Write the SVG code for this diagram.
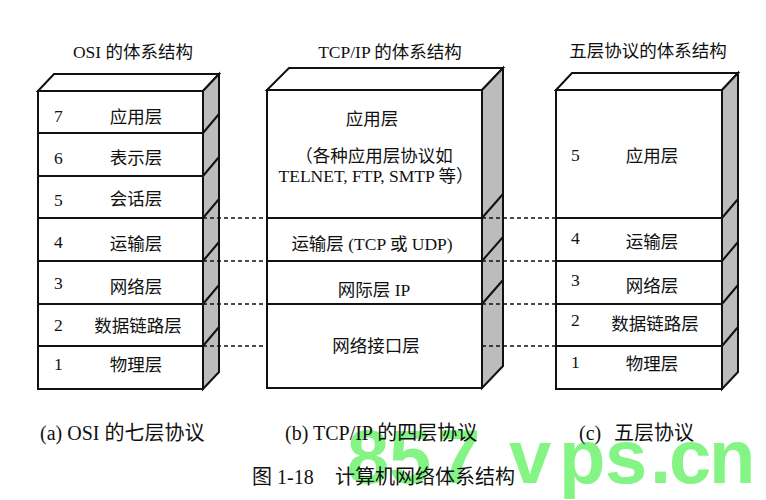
<svg xmlns="http://www.w3.org/2000/svg" width="766" height="500" viewBox="0 0 766 500">
<style>
  .bg { fill: #ffffff; }
  .face { fill: #ffffff; stroke: #111; stroke-width: 2; stroke-linejoin: miter; }
  .side { fill: #bcbcbc; stroke: #111; stroke-width: 2; stroke-linejoin: miter; }
  .diag { stroke: #111; stroke-width: 2; fill: none; }
  .layer { fill: #ffffff; stroke: #111; stroke-width: 2; }
  .dash { stroke: #111; stroke-width: 1.4; stroke-dasharray: 4 3; fill: none; }
  .t { font-family: "Liberation Serif", "Noto Sans CJK SC", serif; font-size: 17.5px; fill: #111; }
  .c { text-anchor: middle; }
  .cap { font-family: "Liberation Serif", "Noto Sans CJK SC", serif; font-size: 20px; fill: #111; }
  .wm { font-family: "Liberation Sans", "DejaVu Sans", sans-serif; font-weight: bold; font-size: 76px; fill: #84f584; }
</style>
<rect class="bg" x="0" y="0" width="766" height="500"/>

<!-- Headers -->
<text class="t c" x="133" y="58">OSI 的体系结构</text>
<text class="t c" x="390" y="58">TCP/IP 的体系结构</text>
<text class="t c" x="648" y="57">五层协议的体系结构</text>

<!-- OSI stack frame -->
<g id="osi-frame">
  <polygon class="face" points="38,91 54,74 219,74 203,91"/>
  <polygon class="side" points="203,91 219,74 219,372 203,389"/>
  <line class="diag" x1="203" y1="133" x2="219" y2="114"/>
  <line class="diag" x1="203" y1="176" x2="219" y2="157"/>
  <line class="diag" x1="203" y1="218" x2="219" y2="199"/>
  <line class="diag" x1="203" y1="261" x2="219" y2="242"/>
  <line class="diag" x1="203" y1="304" x2="219" y2="285"/>
  <line class="diag" x1="203" y1="346" x2="219" y2="327"/>
</g>
<g id="osi-7"><rect class="layer" x="38" y="91" width="165" height="42"/><text class="t" x="54" y="122">7</text><text class="t c" x="136" y="122.5">应用层</text></g>
<g id="osi-6"><rect class="layer" x="38" y="133" width="165" height="43"/><text class="t" x="54" y="164">6</text><text class="t c" x="136" y="163.5">表示层</text></g>
<g id="osi-5"><rect class="layer" x="38" y="176" width="165" height="42"/><text class="t" x="54" y="206">5</text><text class="t c" x="136" y="204.5">会话层</text></g>
<g id="osi-4"><rect class="layer" x="38" y="218" width="165" height="43"/><text class="t" x="54" y="248">4</text><text class="t c" x="136" y="249.5">运输层</text></g>
<g id="osi-3"><rect class="layer" x="38" y="261" width="165" height="43"/><text class="t" x="54" y="289">3</text><text class="t c" x="136" y="292.5">网络层</text></g>
<g id="osi-2"><rect class="layer" x="38" y="304" width="165" height="42"/><text class="t" x="54" y="331">2</text><text class="t c" x="138" y="331.5">数据链路层</text></g>
<g id="osi-1"><rect class="layer" x="38" y="346" width="165" height="43"/><text class="t" x="54" y="370">1</text><text class="t c" x="136" y="370.5">物理层</text></g>

<!-- TCP/IP stack frame -->
<g id="tcpip-frame">
  <polygon class="face" points="267,90 289,68 503,68 482,90"/>
  <polygon class="side" points="482,90 503,68 503,366 482,388"/>
  <line class="diag" x1="482" y1="218" x2="503" y2="194"/>
  <line class="diag" x1="482" y1="261" x2="503" y2="237"/>
  <line class="diag" x1="482" y1="304" x2="503" y2="280"/>
</g>
<g id="tcpip-app"><rect class="layer" x="267" y="90" width="215" height="128"/>
  <text class="t c" x="372" y="124.5">应用层</text>
  <text class="t c" x="374" y="161.5">（各种应用层协议如</text>
  <text class="t c" x="376" y="181.5">TELNET, FTP, SMTP 等）</text>
</g>
<g id="tcpip-transport"><rect class="layer" x="267" y="218" width="215" height="43"/><text class="t c" x="372" y="249.5">运输层 (TCP 或 UDP)</text></g>
<g id="tcpip-internet"><rect class="layer" x="267" y="261" width="215" height="43"/><text class="t c" x="374" y="295.5">网际层 IP</text></g>
<g id="tcpip-netif"><rect class="layer" x="267" y="304" width="215" height="84"/><text class="t c" x="376" y="351.5">网络接口层</text></g>

<!-- Five-layer stack frame -->
<g id="five-frame">
  <polygon class="face" points="556,90 572,73 738,73 722,90"/>
  <polygon class="side" points="722,90 738,73 738,372 722,389"/>
  <line class="diag" x1="722" y1="218" x2="738" y2="199"/>
  <line class="diag" x1="722" y1="261" x2="738" y2="242"/>
  <line class="diag" x1="722" y1="304" x2="738" y2="285"/>
  <line class="diag" x1="722" y1="346" x2="738" y2="327"/>
</g>
<g id="five-5"><rect class="layer" x="556" y="90" width="166" height="128"/><text class="t" x="571" y="161">5</text><text class="t c" x="652" y="161.5">应用层</text></g>
<g id="five-4"><rect class="layer" x="556" y="218" width="166" height="43"/><text class="t" x="571" y="244">4</text><text class="t c" x="652" y="248">运输层</text></g>
<g id="five-3"><rect class="layer" x="556" y="261" width="166" height="43"/><text class="t" x="571" y="286">3</text><text class="t c" x="652" y="291.5">网络层</text></g>
<g id="five-2"><rect class="layer" x="556" y="304" width="166" height="42"/><text class="t" x="571" y="326">2</text><text class="t c" x="655" y="330">数据链路层</text></g>
<g id="five-1"><rect class="layer" x="556" y="346" width="166" height="43"/><text class="t" x="571" y="368">1</text><text class="t c" x="652" y="370">物理层</text></g>

<!-- Connectors -->
<g id="connectors">
  <line class="dash" x1="203" y1="218" x2="267" y2="218"/>
  <line class="dash" x1="203" y1="261" x2="267" y2="261"/>
  <line class="dash" x1="203" y1="304" x2="267" y2="304"/>
  <line class="dash" x1="203" y1="346" x2="267" y2="346"/>
  <line class="dash" x1="482" y1="218" x2="556" y2="218"/>
  <line class="dash" x1="482" y1="261" x2="556" y2="261"/>
  <line class="dash" x1="482" y1="304" x2="556" y2="304"/>
  <line class="dash" x1="482" y1="346" x2="556" y2="346"/>
</g>

<!-- Watermark -->
<g id="watermark">
  <text class="wm" x="347 389 438 509 559 605 650 669 709" y="483">857vps.cn</text>
</g>

<!-- Captions -->
<g id="captions">
  <text class="cap" x="40" y="440">(a) OSI 的七层协议</text>
  <text class="cap" x="285" y="440">(b) TCP/IP 的四层协议</text>
  <text class="cap" y="440"><tspan x="579">(c)</tspan><tspan x="614">五层协议</tspan></text>
  <text class="cap" y="484"><tspan x="252">图 1-18</tspan><tspan x="335">计算机网络体系结构</tspan></text>
</g>
</svg>
